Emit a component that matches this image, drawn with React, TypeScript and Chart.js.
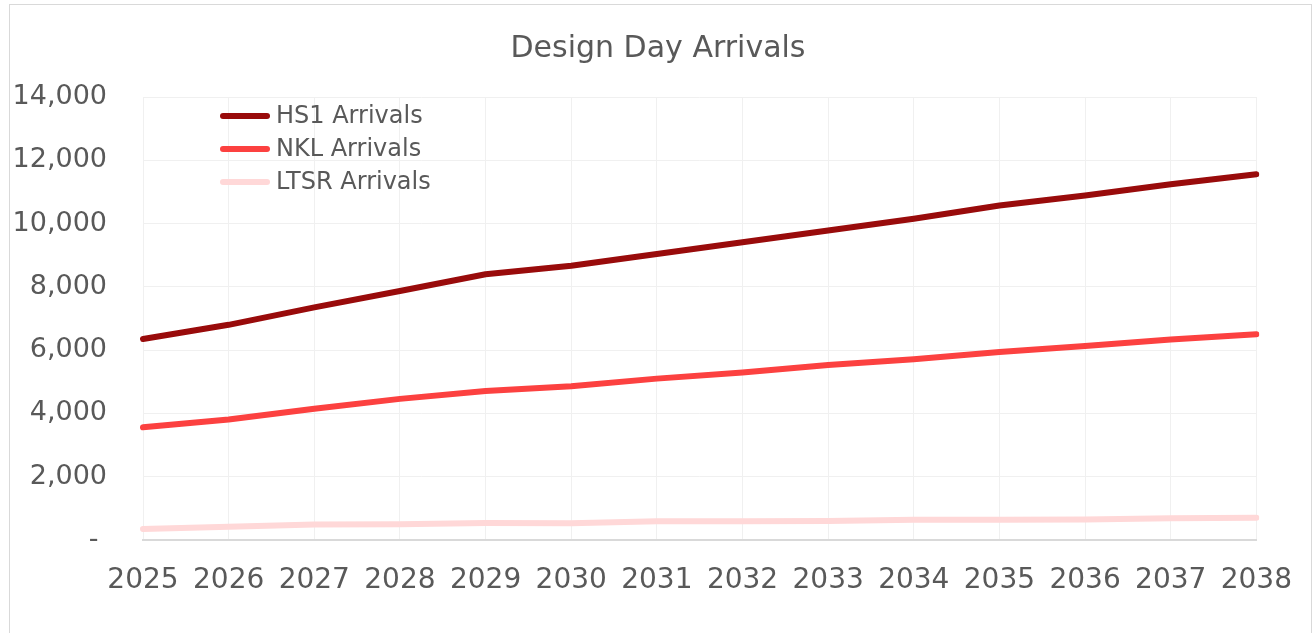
import React, { useEffect, useRef } from "react";
import { Chart, registerables } from "chart.js";

Chart.register(...registerables);

const years = ["2025", "2026", "2027", "2028", "2029", "2030", "2031", "2032", "2033", "2034", "2035", "2036", "2037", "2038"];
const hs1Arrivals = [6350, 6800, 7350, 7870, 8400, 8670, 9040, 9410, 9780, 10150, 10570, 10890, 11240, 11560];
const nklArrivals = [3560, 3810, 4150, 4460, 4710, 4860, 5100, 5290, 5530, 5710, 5940, 6130, 6340, 6500];
const ltsrArrivals = [350, 420, 490, 500, 540, 530, 590, 590, 600, 640, 640, 650, 690, 700];
const seriesNames = ["HS1 Arrivals", "NKL Arrivals", "LTSR Arrivals"];
const seriesColors = ["#990B0B", "#FC4140", "#FFD8D8"];
const titleText = "Design Day Arrivals";

const FONT = "'DejaVu Sans', sans-serif";
const TEXT = "#595959";

const insideLegend = {
  id: "insideLegend",
  afterDraw(chart: any) {
    const ctx = chart.ctx;
    const area = chart.chartArea;
    const x0 = area.left + 80;
    const x1 = area.left + 124;
    ctx.save();
    chart.data.datasets.forEach((ds: any, i: number) => {
      const y = area.top + 19 + i * 33;
      ctx.strokeStyle = ds.borderColor;
      ctx.lineWidth = 6;
      ctx.lineCap = "round";
      ctx.beginPath();
      ctx.moveTo(x0, y);
      ctx.lineTo(x1, y);
      ctx.stroke();
      ctx.fillStyle = TEXT;
      ctx.font = `24px ${FONT}`;
      ctx.textBaseline = "middle";
      ctx.textAlign = "left";
      ctx.fillText(ds.label, area.left + 133, y + 1);
    });
    ctx.restore();
  },
};

export default function App() {
  const canvasRef = useRef<HTMLCanvasElement | null>(null);

  useEffect(() => {
    if (!canvasRef.current) return;
    const data = [hs1Arrivals, nklArrivals, ltsrArrivals];
    const chart = new Chart(canvasRef.current, {
      type: "line",
      data: {
        labels: years,
        datasets: [0, 1, 2].map((i) => ({
          label: seriesNames[i],
          data: data[i],
          borderColor: seriesColors[i],
          backgroundColor: seriesColors[i],
          borderWidth: 6,
          borderCapStyle: "round" as const,
          borderJoinStyle: "round" as const,
          pointRadius: 0,
          tension: 0,
          order: i,
        })),
      },
      options: {
        animation: false,
        responsive: false,
        maintainAspectRatio: false,
        layout: { padding: { left: 0, right: 0, top: 0, bottom: 0 } },
        plugins: {
          legend: { display: false },
          tooltip: { enabled: false },
          title: {
            display: true,
            text: titleText,
            color: TEXT,
            font: { family: FONT, size: 30, weight: "normal" as const },
            padding: { top: 31, bottom: 30 },
          },
        },
        scales: {
          x: {
            grid: { color: "#F0F0F0", lineWidth: 1, drawTicks: false },
            border: { color: "#D9D9D9", width: 2 },
            ticks: {
              color: TEXT,
              font: { family: FONT, size: 28 },
              padding: 24,
              maxRotation: 0,
              autoSkip: false,
            },
            afterFit: (s: any) => {
              s.height = 93;
            },
          },
          y: {
            min: 0,
            max: 14000,
            grid: { color: "#F0F0F0", lineWidth: 1, drawTicks: false },
            border: { display: false },
            ticks: {
              stepSize: 2000,
              color: TEXT,
              font: { family: FONT, size: 27 },
              padding: 36,
              callback: (v: any) => (Number(v) === 0 ? "- " : Number(v).toLocaleString("en-US")),
            },
            afterFit: (s: any) => {
              s.width = 143;
            },
          },
          yRight: {
            position: "right",
            display: true,
            grid: { display: false, drawTicks: false },
            border: { display: false },
            ticks: { display: false },
            afterFit: (s: any) => {
              s.width = 59;
            },
          },
        },
      },
      plugins: [insideLegend],
    });
    return () => chart.destroy();
  }, []);

  return (
    <div style={{ position: "fixed", left: 0, top: 0, width: 1316, height: 633, background: "#fff" }}>
      <div
        style={{
          position: "absolute",
          left: 9,
          top: 4,
          width: 1303,
          height: 629,
          borderTop: "1px solid #D9D9D9",
          borderLeft: "1px solid #D9D9D9",
          borderRight: "1px solid #D9D9D9",
          boxSizing: "border-box",
        }}
      />
      <canvas ref={canvasRef} width={1316} height={633} style={{ position: "absolute", left: 0, top: 0 }} />
    </div>
  );
}
